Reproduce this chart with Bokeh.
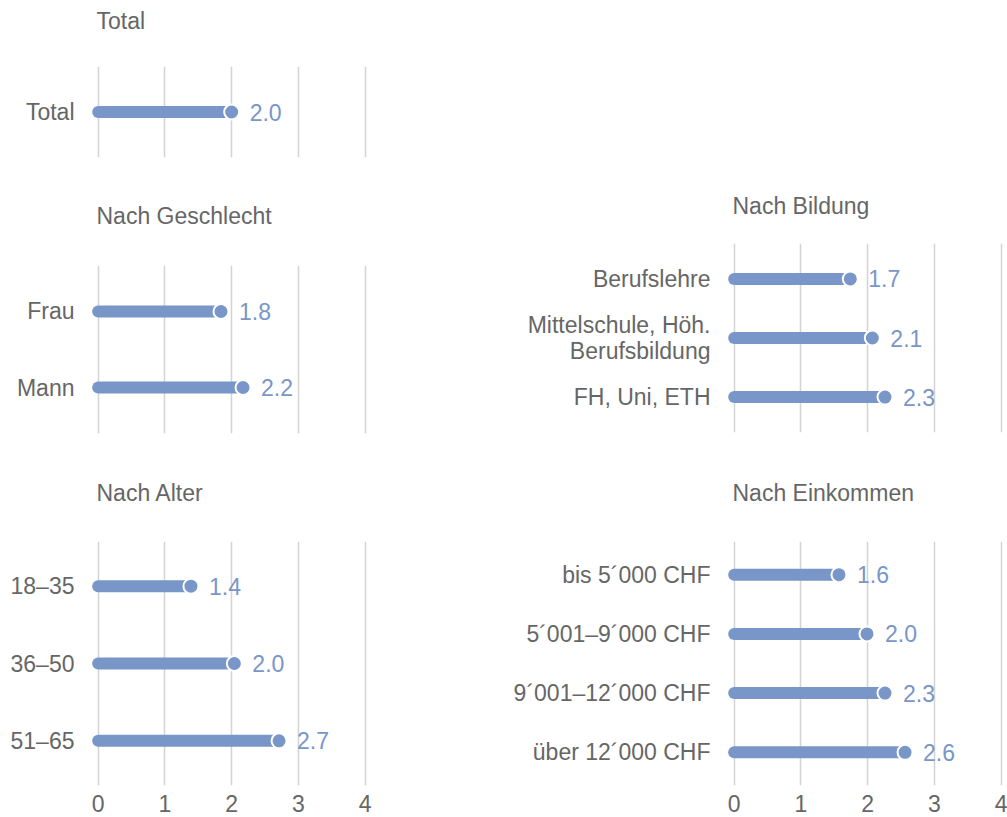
from bokeh.plotting import figure
from bokeh.models import Range1d, FixedTicker, ColumnDataSource, Spacer, Title
from bokeh.layouts import row, column
from bokeh.embed import file_html
from bokeh.resources import INLINE
from bokeh.core.properties import value

# ---- data ----
total_title = "Total"
total_cats = ["Total"]
total_vals = [2.0]

gender_title = "Nach Geschlecht"
gender_cats = ["Frau", "Mann"]
gender_vals = [1.84, 2.17]

age_title = "Nach Alter"
age_cats = ["18–35", "36–50", "51–65"]
age_vals = [1.39, 2.04, 2.71]

edu_title = "Nach Bildung"
edu_cats = ["Berufslehre", "Mittelschule, Höh.\nBerufsbildung", "FH, Uni, ETH"]
edu_vals = [1.74, 2.07, 2.26]

inc_title = "Nach Einkommen"
inc_cats = ["bis 5´000 CHF", "5´001–9´000 CHF", "9´001–12´000 CHF", "über 12´000 CHF"]
inc_vals = [1.57, 1.99, 2.26, 2.56]

x_ticks = [0, 1, 2, 3, 4]

# ---- style ----
FONT = "Liberation Sans"
FS = "23px"
GREY = "#666666"
BLUE = "#7896c8"
GRID = "#d3d3d3"


def panel(title, cats, vals, width, height, borders, pad, gap, show_x):
    n = len(cats)
    ys = list(range(n))
    p = figure(width=width, height=height, output_backend="svg", toolbar_location=None,
               x_range=Range1d(-0.1, 4.05), y_range=Range1d(n - 1 + pad, -pad),
               min_border_left=borders[0], min_border_right=borders[1],
               min_border_top=borders[2], min_border_bottom=borders[3])
    p.outline_line_color = None
    p.background_fill_color = "white"
    p.border_fill_color = "white"

    # empty spacer panel between title and plot area
    p.add_layout(Title(text=" ", text_font_size="1px", standoff=gap), "above")

    p.title.text = title
    p.title.text_font = FONT
    p.title.text_font_size = FS
    p.title.text_font_style = "normal"
    p.title.text_color = GREY
    p.title.align = "left"
    p.title.vertical_align = "top"
    p.title.offset = 5
    p.title.standoff = 0

    p.ygrid.visible = False
    p.xgrid.ticker = FixedTicker(ticks=x_ticks)
    p.xgrid.grid_line_color = GRID
    p.xgrid.grid_line_width = 1.5

    p.yaxis.ticker = FixedTicker(ticks=ys)
    p.yaxis.major_label_overrides = {i: c for i, c in enumerate(cats)}
    p.yaxis.axis_line_color = None
    p.yaxis.major_tick_line_color = None
    p.yaxis.minor_tick_line_color = None
    p.yaxis.major_tick_out = 0
    p.yaxis.major_tick_in = 0
    p.yaxis.major_label_standoff = 17
    p.yaxis.major_label_text_font = FONT
    p.yaxis.major_label_text_font_size = FS
    p.yaxis.major_label_text_color = GREY
    p.yaxis.major_label_text_line_height = 1.0

    if show_x:
        p.xaxis.ticker = FixedTicker(ticks=x_ticks)
        p.xaxis.axis_line_color = None
        p.xaxis.major_tick_line_color = None
        p.xaxis.minor_tick_line_color = None
        p.xaxis.major_tick_out = 0
        p.xaxis.major_tick_in = 0
        p.xaxis.major_label_standoff = 9
        p.xaxis.major_label_text_font = FONT
        p.xaxis.major_label_text_font_size = FS
        p.xaxis.major_label_text_color = GREY
        p.xaxis.major_label_text_line_height = 1.0
    else:
        p.xaxis.visible = False

    src = ColumnDataSource(dict(y=ys, v=vals, zero=[0] * n,
                                lab=[f"{v:.1f}" for v in vals]))
    p.segment(x0="zero", y0="y", x1="v", y1="y", source=src,
              line_width=12, line_cap="round", line_color=BLUE)
    p.scatter(x="v", y="y", source=src, size=15, fill_color=BLUE,
              line_color="white", line_width=2)
    p.text(x="v", y="y", text="lab", source=src, x_offset=18,
           text_baseline="middle", text_align="left",
           text_font=value(FONT), text_font_size=FS, text_color=BLUE)
    return p


LW, RW = 508, 499
f1 = panel(total_title, total_cats, total_vals, LW, 180, (91, 140, 66, 23), 0.5, 28, False)
f2 = panel(gender_title, gender_cats, gender_vals, LW, 280, (91, 140, 85, 27), 0.605, 32, False)
f3 = panel(age_title, age_cats, age_vals, LW, 357, (91, 140, 81, 32), 0.578, 31, True)
sp = Spacer(width=RW, height=180)
f4 = panel(edu_title, edu_cats, edu_vals, RW, 280, (219, 3, 63, 28), 0.60, 20, False)
f5 = panel(inc_title, inc_cats, inc_vals, RW, 357, (219, 3, 81, 32), 0.56, 31, True)

layout = row(column(f1, f2, f3), column(sp, f4, f5))

open("out.html", "w").write(file_html(layout, INLINE))
